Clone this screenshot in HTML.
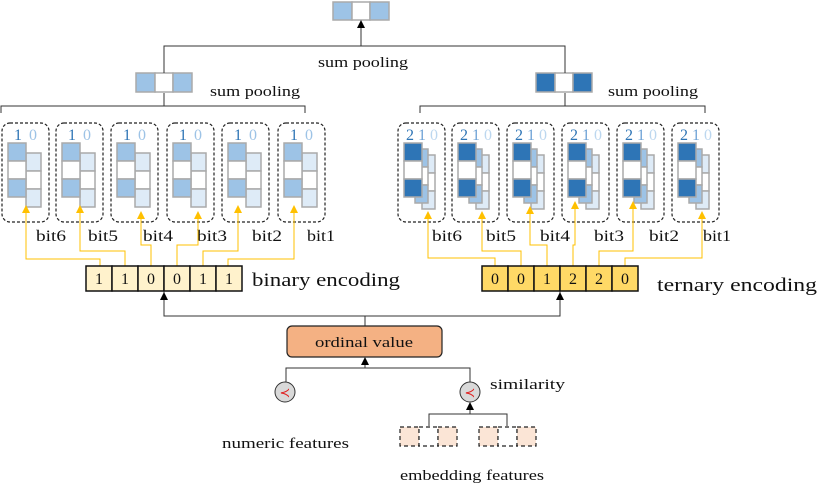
<!DOCTYPE html>
<html><head><meta charset="utf-8"><style>
html,body{margin:0;padding:0;background:#fff;}
svg{display:block;font-family:"Liberation Serif",serif;}
</style></head><body>
<svg width="830" height="493" viewBox="0 0 830 493" xmlns="http://www.w3.org/2000/svg">
<defs>
<marker id="ab" markerWidth="8" markerHeight="8" refX="4" refY="1" markerUnits="userSpaceOnUse"><path d="M0,8 L4,0 L8,8 z" fill="#000"/></marker>
<marker id="ay" markerWidth="8" markerHeight="8" refX="4" refY="1" markerUnits="userSpaceOnUse"><path d="M0,8 L4,0 L8,8 z" fill="#ffc000"/></marker>
<g id="bb">
<rect x="0" y="0" width="47" height="99" rx="8" fill="none" stroke="#222" stroke-width="1.2" stroke-dasharray="3,2"/>
<g stroke="#aaa" stroke-width="1.5">
<rect x="24" y="30" width="15" height="18" fill="#deebf7"/><rect x="24" y="48" width="15" height="18" fill="#fff"/><rect x="24" y="66" width="15" height="18" fill="#deebf7"/>
<rect x="6" y="20" width="18" height="18" fill="#9dc3e6"/><rect x="6" y="38" width="18" height="18" fill="#fff"/><rect x="6" y="56" width="18" height="18" fill="#9dc3e6"/>
</g>
</g>
<g id="tb">
<rect x="0" y="0" width="47" height="99" rx="8" fill="none" stroke="#222" stroke-width="1.2" stroke-dasharray="3,2"/>
<g stroke="#aaa" stroke-width="1.5">
<rect x="24" y="32" width="13" height="18" fill="#deebf7"/><rect x="24" y="50" width="13" height="18" fill="#fff"/><rect x="24" y="68" width="13" height="18" fill="#deebf7"/>
<rect x="17" y="26" width="13" height="18" fill="#9dc3e6"/><rect x="17" y="44" width="13" height="18" fill="#fff"/><rect x="17" y="62" width="13" height="18" fill="#9dc3e6"/>
<rect x="6" y="20" width="18" height="18" fill="#2e75b6"/><rect x="6" y="38" width="18" height="18" fill="#fff"/><rect x="6" y="56" width="18" height="18" fill="#2e75b6"/>
</g>
</g>
</defs>

<!-- top -->
<g stroke="#aaa" stroke-width="1.5">
<rect x="333" y="2" width="19" height="18" fill="#9dc3e6"/><rect x="352" y="2" width="18" height="18" fill="#fff"/><rect x="370" y="2" width="19" height="18" fill="#9dc3e6"/>
<rect x="136" y="73" width="19" height="19" fill="#9dc3e6"/><rect x="155" y="73" width="18" height="19" fill="#fff"/><rect x="173" y="73" width="19" height="19" fill="#9dc3e6"/>
<rect x="536" y="73" width="19" height="19" fill="#2e75b6"/><rect x="555" y="73" width="18" height="19" fill="#fff"/><rect x="573" y="73" width="19" height="19" fill="#2e75b6"/>
</g>
<g stroke="#333" stroke-width="1" fill="none">
<line x1="361" y1="46" x2="361" y2="21" marker-end="url(#ab)"/>
<polyline points="164,73 164,46 565,46 565,73"/>
<polyline points="1,113 1,106 305,106 305,113"/><line x1="164" y1="106" x2="164" y2="93"/>
<polyline points="420,113 420,106 705,106 705,113"/><line x1="565" y1="106" x2="565" y2="93"/>
</g>
<g font-size="15" fill="#111" lengthAdjust="spacingAndGlyphs">
<text x="318" y="67" textLength="90" lengthAdjust="spacingAndGlyphs">sum pooling</text>
<text x="210" y="96" textLength="90" lengthAdjust="spacingAndGlyphs">sum pooling</text>
<text x="608" y="96" textLength="90" lengthAdjust="spacingAndGlyphs">sum pooling</text>
</g>

<!-- binary boxes -->
<use href="#bb" x="2" y="123"/><use href="#bb" x="56" y="123"/><use href="#bb" x="111" y="123"/>
<use href="#bb" x="167" y="123"/><use href="#bb" x="222" y="123"/><use href="#bb" x="278" y="123"/>
<g font-size="16">
<text x="14" y="140" fill="#2e75b6">1</text><text x="29" y="140" fill="#9dc3e6">0</text>
<text x="68" y="140" fill="#2e75b6">1</text><text x="83" y="140" fill="#9dc3e6">0</text>
<text x="123" y="140" fill="#2e75b6">1</text><text x="138" y="140" fill="#9dc3e6">0</text>
<text x="179" y="140" fill="#2e75b6">1</text><text x="194" y="140" fill="#9dc3e6">0</text>
<text x="234" y="140" fill="#2e75b6">1</text><text x="249" y="140" fill="#9dc3e6">0</text>
<text x="290" y="140" fill="#2e75b6">1</text><text x="305" y="140" fill="#9dc3e6">0</text>
</g>
<!-- ternary boxes -->
<use href="#tb" x="398" y="123"/><use href="#tb" x="452" y="123"/><use href="#tb" x="507" y="123"/>
<use href="#tb" x="562" y="123"/><use href="#tb" x="617" y="123"/><use href="#tb" x="672" y="123"/>
<g font-size="16">
<text x="406" y="140" fill="#2e75b6">2</text><text x="418" y="140" fill="#6fa3d6">1</text><text x="430" y="140" fill="#bcd7ef">0</text>
<text x="460" y="140" fill="#2e75b6">2</text><text x="472" y="140" fill="#6fa3d6">1</text><text x="484" y="140" fill="#bcd7ef">0</text>
<text x="515" y="140" fill="#2e75b6">2</text><text x="527" y="140" fill="#6fa3d6">1</text><text x="539" y="140" fill="#bcd7ef">0</text>
<text x="570" y="140" fill="#2e75b6">2</text><text x="582" y="140" fill="#6fa3d6">1</text><text x="594" y="140" fill="#bcd7ef">0</text>
<text x="625" y="140" fill="#2e75b6">2</text><text x="637" y="140" fill="#6fa3d6">1</text><text x="649" y="140" fill="#bcd7ef">0</text>
<text x="680" y="140" fill="#2e75b6">2</text><text x="692" y="140" fill="#6fa3d6">1</text><text x="704" y="140" fill="#bcd7ef">0</text>
</g>

<!-- bit labels -->
<g font-size="16" fill="#111">
<text x="36" y="241" textLength="30" lengthAdjust="spacingAndGlyphs">bit6</text><text x="88" y="241" textLength="30" lengthAdjust="spacingAndGlyphs">bit5</text><text x="143" y="241" textLength="30" lengthAdjust="spacingAndGlyphs">bit4</text><text x="197" y="241" textLength="30" lengthAdjust="spacingAndGlyphs">bit3</text><text x="252" y="241" textLength="30" lengthAdjust="spacingAndGlyphs">bit2</text><text x="307" y="241" textLength="28" lengthAdjust="spacingAndGlyphs">bit1</text>
<text x="432" y="241" textLength="30" lengthAdjust="spacingAndGlyphs">bit6</text><text x="486" y="241" textLength="30" lengthAdjust="spacingAndGlyphs">bit5</text><text x="540" y="241" textLength="30" lengthAdjust="spacingAndGlyphs">bit4</text><text x="594" y="241" textLength="30" lengthAdjust="spacingAndGlyphs">bit3</text><text x="649" y="241" textLength="30" lengthAdjust="spacingAndGlyphs">bit2</text><text x="703" y="241" textLength="28" lengthAdjust="spacingAndGlyphs">bit1</text>
</g>

<!-- yellow connectors -->
<g stroke="#ffc000" stroke-width="1" fill="none" marker-end="url(#ay)">
<polyline points="100,266 100,259 26,259 26,206"/>
<polyline points="125,266 125,251 80,251 80,206"/>
<polyline points="151,266 151,245 141,245 141,212"/>
<polyline points="177,266 177,245 198,245 198,212"/>
<polyline points="203,266 203,251 238,251 238,206"/>
<polyline points="228,266 228,259 294,259 294,206"/>
<polyline points="495,266 495,258 428,258 428,212"/>
<polyline points="521,266 521,251 482,251 482,212"/>
<polyline points="547,266 547,245 530,245 530,207"/>
<polyline points="573,266 573,245 575,245 575,202"/>
<polyline points="599,266 599,251 633,251 633,202"/>
<polyline points="625,266 625,258 702,258 702,212"/>
</g>

<!-- encodings -->
<g stroke="#111" stroke-width="1.5">
<rect x="86" y="266" width="26" height="25" fill="#fff2cc"/><rect x="112" y="266" width="26" height="25" fill="#fff2cc"/><rect x="138" y="266" width="26" height="25" fill="#fff2cc"/>
<rect x="164" y="266" width="26" height="25" fill="#fff2cc"/><rect x="190" y="266" width="26" height="25" fill="#fff2cc"/><rect x="216" y="266" width="26" height="25" fill="#fff2cc"/>
<rect x="482" y="266" width="26" height="25" fill="#ffd966"/><rect x="508" y="266" width="26" height="25" fill="#ffd966"/><rect x="534" y="266" width="26" height="25" fill="#ffd966"/>
<rect x="560" y="266" width="26" height="25" fill="#ffd966"/><rect x="586" y="266" width="26" height="25" fill="#ffd966"/><rect x="612" y="266" width="26" height="25" fill="#ffd966"/>
</g>
<g font-size="16" fill="#111" text-anchor="middle">
<text x="99" y="284">1</text><text x="125" y="284">1</text><text x="151" y="284">0</text><text x="177" y="284">0</text><text x="203" y="284">1</text><text x="229" y="284">1</text>
<text x="495" y="284">0</text><text x="521" y="284">0</text><text x="547" y="284">1</text><text x="573" y="284">2</text><text x="599" y="284">2</text><text x="625" y="284">0</text>
</g>
<g font-size="19" fill="#111">
<text x="252" y="286" textLength="148" lengthAdjust="spacingAndGlyphs">binary encoding</text>
<text x="657" y="291" textLength="160" lengthAdjust="spacingAndGlyphs">ternary encoding</text>
</g>

<!-- ordinal -->
<g stroke="#333" stroke-width="1" fill="none">
<polyline points="164,292 164,316 560,316 560,292"/>
<line x1="164" y1="316" x2="164" y2="293" marker-end="url(#ab)"/>
<line x1="560" y1="316" x2="560" y2="293" marker-end="url(#ab)"/>
<line x1="365" y1="326" x2="365" y2="316"/>
<polyline points="286,382 286,368 470,368 470,382"/>
<line x1="365" y1="368" x2="365" y2="358" marker-end="url(#ab)"/>
<line x1="470" y1="414" x2="470" y2="403" marker-end="url(#ab)"/>
<polyline points="429,426 429,414 507,414 507,426"/>
</g>
<rect x="287" y="326" width="155" height="31" rx="5" fill="#f4b183" stroke="#222" stroke-width="1.2"/>
<text x="315" y="347" font-size="15" fill="#111" textLength="98" lengthAdjust="spacingAndGlyphs">ordinal value</text>
<circle cx="285" cy="392" r="10" fill="#d9d9d9" stroke="#333" stroke-width="1"/>
<circle cx="470" cy="392" r="10" fill="#d9d9d9" stroke="#333" stroke-width="1"/>
<text x="285" y="397" font-size="13" text-anchor="middle" fill="#e02020">≺</text>
<text x="470" y="397" font-size="13" text-anchor="middle" fill="#e02020">≺</text>
<g font-size="15" fill="#111">
<text x="490" y="389" textLength="75" lengthAdjust="spacingAndGlyphs">similarity</text>
<text x="222" y="448" textLength="127" lengthAdjust="spacingAndGlyphs">numeric features</text>
<text x="400" y="480" textLength="144" lengthAdjust="spacingAndGlyphs">embedding features</text>
</g>
<g stroke="#222" stroke-width="1.2" stroke-dasharray="4,3">
<rect x="400" y="427" width="19" height="19" fill="#fbe5d6"/><rect x="419" y="427" width="19" height="19" fill="#fff"/><rect x="438" y="427" width="19" height="19" fill="#fbe5d6"/>
<rect x="479" y="427" width="19" height="19" fill="#fbe5d6"/><rect x="498" y="427" width="19" height="19" fill="#fff"/><rect x="517" y="427" width="19" height="19" fill="#fbe5d6"/>
</g>
</svg>
</body></html>
